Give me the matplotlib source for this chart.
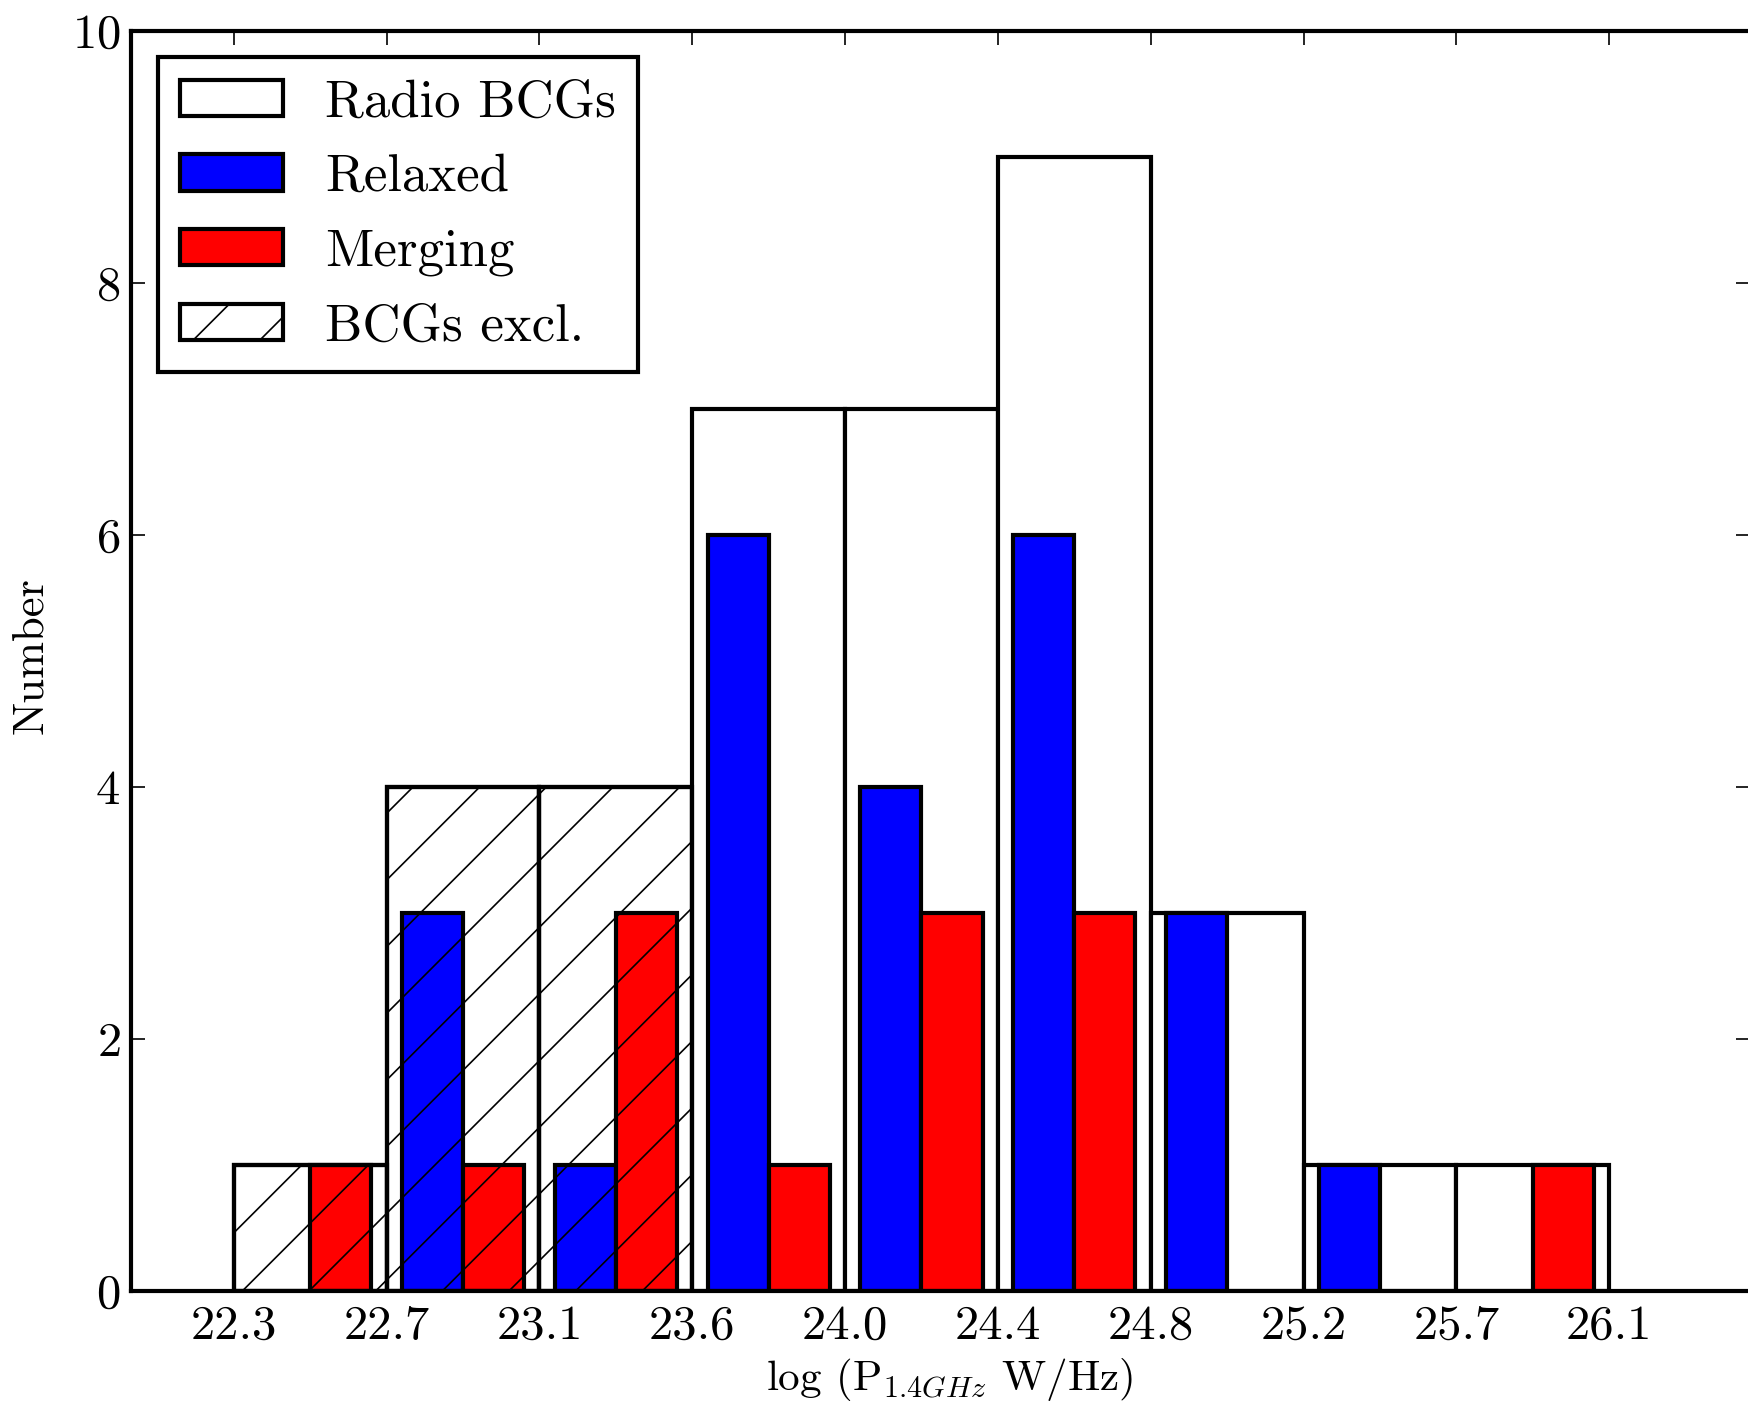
import numpy as np
import matplotlib
matplotlib.use("Agg")
import matplotlib.pyplot as plt

# Histogram of radio power for BCGs (counts per bin)
tick_labels = ["22.3", "22.7", "23.1", "23.6", "24.0", "24.4", "24.8", "25.2", "25.7", "26.1"]
radio_bcgs = [1, 4, 4, 7, 7, 9, 3, 1, 1]
relaxed = [0, 3, 1, 6, 4, 6, 3, 1, 0]
merging = [1, 1, 3, 1, 3, 3, 0, 0, 1]
bcgs_excl = [1, 4, 4, 0, 0, 0, 0, 0, 0]

plt.rcParams['font.family'] = 'cmr10'
plt.rcParams['mathtext.fontset'] = 'cm'
plt.rcParams['axes.formatter.use_mathtext'] = True
plt.rcParams['hatch.linewidth'] = 0.6

fig = plt.figure(figsize=(8.74, 7.005), dpi=200)
ax = fig.add_axes([0.0752, 0.0785, 0.9258, 0.8993])

left = np.arange(len(radio_bcgs), dtype=float)
edge_kw = dict(edgecolor='black', linewidth=1.5, align='edge')


def nz(vals):
    return np.asarray(vals) > 0


m = nz(radio_bcgs)
ax.bar(left[m], np.asarray(radio_bcgs)[m], width=1.0, color='white',
       label='Radio BCGs', zorder=1, **edge_kw)
m = nz(relaxed)
ax.bar(left[m] + 0.1, np.asarray(relaxed)[m], width=0.4, color='#0000ff',
       label='Relaxed', zorder=1.2, **edge_kw)
m = nz(merging)
ax.bar(left[m] + 0.5, np.asarray(merging)[m], width=0.4, color='#ff0000',
       label='Merging', zorder=1.2, **edge_kw)
m = nz(bcgs_excl)
ax.bar(left[m], np.asarray(bcgs_excl)[m], width=1.0, fill=False, hatch='/',
       label='BCGs excl.', zorder=1.5, **edge_kw)

ax.set_xlim(-0.67, 9.92)
ax.set_ylim(0, 10)
ax.set_xticks(np.arange(len(tick_labels)))
ax.set_xticklabels(tick_labels)
ax.set_yticks(np.arange(0, 11, 2))

ax.tick_params(direction='in', top=True, right=True, length=5, width=0.6,
               labelsize=17.5)
ax.tick_params(axis='x', pad=5)
ax.tick_params(axis='y', pad=4)
for sp in ax.spines.values():
    sp.set_linewidth(1.5)

# axis labels placed in figure coordinates (the reference is tightly cropped)
fig.text(0.543, 0.0157, r'log (P$_{1.4GHz}$ W/Hz)', fontsize=15.5,
         ha='center', va='center')
fig.text(0.0178, 0.532, 'Number', fontsize=16, rotation=90,
         ha='center', va='center')

leg = ax.legend(loc='upper left', fontsize=19, fancybox=False, framealpha=1,
                edgecolor='black', handlelength=1.95, handleheight=0.68,
                handletextpad=0.8, labelspacing=0.52, borderpad=0.42)
leg.get_frame().set_linewidth(1.5)

fig.savefig('out.png', dpi=200)
